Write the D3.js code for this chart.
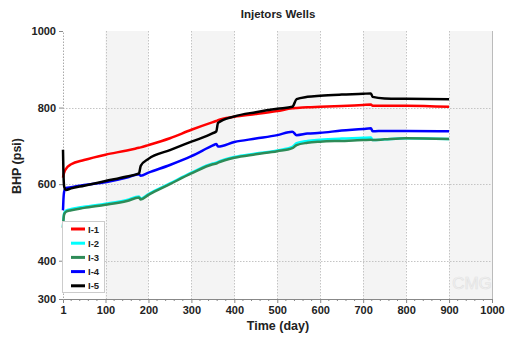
<!DOCTYPE html>
<html>
<head>
<meta charset="utf-8">
<script src="https://cdn.jsdelivr.net/npm/d3@7"></script>
<style>
  body { margin: 0; background: #fff; }
  text { font-family: Arial, "Liberation Sans", sans-serif; }
</style>
</head>
<body>
<svg id="chart" width="505" height="338"></svg>
<script>
// Time (day) sample points shared by all wells
const days = [1, 2, 4, 8, 20, 50, 100, 150, 178, 182, 200, 250, 300, 350, 358, 362, 400, 450, 500, 535, 545, 570, 600, 650, 700, 718, 722, 750, 800, 900];

// BHP (psi) per injector well
const i1 = [617, 623, 631, 640, 652, 663, 677, 688, 695, 696, 702, 720, 742, 762, 765, 767, 776, 783, 791, 798, 799, 801, 802, 804, 807, 808, 805, 805, 805, 802];
const i2 = [488, 508, 525, 531, 535, 541, 549, 559, 568, 562, 574, 602, 630, 654, 656, 658, 671, 680, 688, 697, 707, 713, 716, 719, 721, 722, 715, 717, 720, 718];
const i3 = [485, 505, 522, 528, 532, 538, 546, 556, 565, 560, 572, 600, 628, 652, 654, 656, 669, 678, 686, 694, 702, 708, 711, 713, 715, 716, 715, 717, 720, 718];
const i4 = [532, 560, 582, 590, 592, 598, 605, 617, 626, 622, 630, 650, 673, 701, 705, 698, 710, 719, 728, 737, 728, 732, 734, 740, 744, 746, 738, 739, 739, 738];
const i5 = [690, 630, 592, 585, 589, 596, 608, 620, 628, 648, 666, 689, 711, 733, 738, 760, 777, 788, 797, 802, 822, 828, 831, 834, 836, 837, 828, 824, 823, 822];

const seriesNames = ['I-1', 'I-2', 'I-3', 'I-4', 'I-5'];
const seriesValues = [i1, i2, i3, i4, i5];
const seriesColors = ['#ff0000', '#00ffff', '#2e8b57', '#0000ff', '#000000'];

const xTicks = [1, 100, 200, 300, 400, 500, 600, 700, 800, 900, 1000];
const yTicks = [300, 400, 600, 800, 1000];
const yGrid = [400, 600, 800];

const svg = d3.select('#chart');

const x = d3.scaleLinear().domain([1, 1000]).range([63, 492]);
const y = d3.scaleLinear().domain([300, 1000]).range([299, 31]);

// alternating shaded bands
const bands = d3.range(100, 1000, 200);
svg.append('g').selectAll('rect')
  .data(bands)
  .enter().append('rect')
  .attr('x', d => x(d))
  .attr('y', y(1000))
  .attr('width', d => x(d + 100) - x(d))
  .attr('height', y(300) - y(1000))
  .attr('fill', '#f4f4f4');

// grid
const grid = svg.append('g').attr('stroke', '#c4c4c4').attr('stroke-dasharray', '1.5,1.5').attr('stroke-width', 1);
grid.selectAll('.vg')
  .data(xTicks.slice(1))
  .enter().append('line')
  .attr('x1', d => Math.round(x(d)) + 0.5).attr('x2', d => Math.round(x(d)) + 0.5)
  .attr('y1', y(1000)).attr('y2', y(300));
grid.selectAll('.hg')
  .data(yGrid)
  .enter().append('line')
  .attr('x1', x(1)).attr('x2', x(1000))
  .attr('y1', d => Math.round(y(d)) + 0.5).attr('y2', d => Math.round(y(d)) + 0.5);

// watermark
svg.append('text')
  .attr('x', 472).attr('y', 289)
  .attr('text-anchor', 'middle')
  .attr('font-size', 17)
  .attr('fill', 'none')
  .attr('stroke', '#e2e2e2')
  .attr('stroke-width', 0.7)
  .text('CMG');

// axes
const xAxis = d3.axisBottom(x).tickValues(xTicks).tickFormat(d3.format('d')).tickSize(4).tickPadding(3);
const gx = svg.append('g').attr('transform', `translate(0,${y(300)})`).call(xAxis);
gx.selectAll('text').attr('font-size', 11).attr('font-weight', 'bold').attr('fill', '#222');
gx.select('.domain').attr('stroke', '#888');
gx.selectAll('.tick line').attr('stroke', '#888');
const minor = d3.range(20, 1000, 20).filter(d => d % 100 !== 0);
gx.selectAll('.minor')
  .data(minor)
  .enter().append('line')
  .attr('x1', d => x(d)).attr('x2', d => x(d))
  .attr('y1', 0).attr('y2', 2)
  .attr('stroke', '#888');

const yAxis = d3.axisLeft(y).tickValues(yTicks).tickFormat(d3.format('d')).tickSize(4).tickPadding(3);
const gy = svg.append('g').attr('transform', `translate(${x(1)},0)`).call(yAxis);
gy.selectAll('text').attr('font-size', 11).attr('font-weight', 'bold').attr('fill', '#222');
gy.select('.domain').attr('stroke', '#aaa').attr('stroke-dasharray', '1.5,1.5');
gy.selectAll('.tick line').attr('stroke', '#888');

// right border
svg.append('line')
  .attr('x1', x(1000) + 0.5).attr('x2', x(1000) + 0.5)
  .attr('y1', y(1000)).attr('y2', y(300))
  .attr('stroke', '#bbb');

// lines
const line = d3.line()
  .x((d, i) => x(days[i]))
  .y(d => y(d))
  .curve(d3.curveMonotoneX);

svg.append('g').selectAll('path')
  .data(seriesValues)
  .enter().append('path')
  .attr('d', line)
  .attr('fill', 'none')
  .attr('stroke', (d, i) => seriesColors[i])
  .attr('stroke-width', 2.5)
  .attr('stroke-linejoin', 'round');

// legend
const lg = svg.append('g');
lg.append('rect')
  .attr('x', 62.5).attr('y', 221.5)
  .attr('width', 42).attr('height', 71)
  .attr('fill', '#fff').attr('stroke', '#ccc');
const items = lg.selectAll('.item')
  .data(seriesNames)
  .enter().append('g')
  .attr('transform', (d, i) => `translate(0,${229 + i * 14.2})`);
items.append('line')
  .attr('x1', 71).attr('x2', 85)
  .attr('stroke', (d, i) => seriesColors[i])
  .attr('stroke-width', 3);
items.append('text')
  .attr('x', 88).attr('y', 3.5)
  .attr('font-size', 9.5).attr('font-weight', 'bold').attr('fill', '#222')
  .text(d => d);

// titles
svg.append('text')
  .attr('x', 278).attr('y', 18)
  .attr('text-anchor', 'middle')
  .attr('font-size', 11.5).attr('font-weight', 'bold').attr('fill', '#222')
  .text('Injetors Wells');
svg.append('text')
  .attr('x', 278).attr('y', 330)
  .attr('text-anchor', 'middle')
  .attr('font-size', 12.5).attr('font-weight', 'bold').attr('fill', '#222')
  .text('Time (day)');
svg.append('text')
  .attr('transform', 'translate(21,166) rotate(-90)')
  .attr('text-anchor', 'middle')
  .attr('font-size', 12.5).attr('font-weight', 'bold').attr('fill', '#222')
  .text('BHP (psi)');
</script>
</body>
</html>
